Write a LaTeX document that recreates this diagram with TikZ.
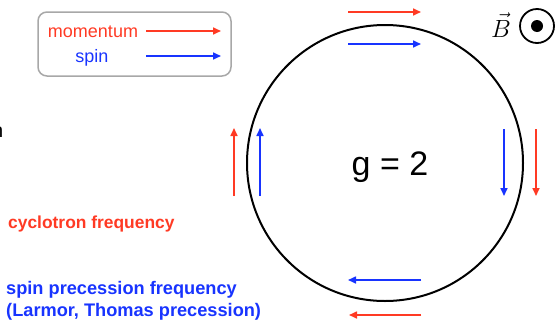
\documentclass[tikz,border=0pt]{standalone}
\usepackage[no-math]{fontspec}
\setmainfont{Liberation Sans}
\usetikzlibrary{arrows.meta}

\definecolor{momred}{RGB}{255,58,36}
\definecolor{spinblue}{RGB}{24,52,255}
\definecolor{boxgray}{RGB}{168,168,168}

\tikzset{
  tip/.style={-{Triangle[length=8pt,width=7pt]}},
  momarrow/.style={tip,draw=momred,fill=momred,line width=1.6pt},
  spinarrow/.style={tip,draw=spinblue,fill=spinblue,line width=1.6pt},
  legendtext/.style={font=\fontsize{18}{22}\selectfont,inner sep=0pt,anchor=base},
  freqtext/.style={font=\fontsize{18.2}{22}\selectfont\bfseries,inner sep=0pt,anchor=base west,align=left}
}

\begin{document}
\begin{tikzpicture}[x=1pt,y=-1pt]
\useasboundingbox (0,0) rectangle (560,322);

% legend
\node[draw=boxgray,line width=1.5pt,rounded corners=9pt,minimum width=193pt,minimum height=64pt] (legend) at (134.5,44) {};
\node[legendtext,text=momred] (momtxt) at (93,37) {momentum};
\node[legendtext,text=spinblue] (spintxt) at (92,62) {spin};
\draw[momarrow] (146,31) -- (221,31);
\draw[spinarrow] (146,56) -- (221,56);

% clipped text at the left edge
\node[font=\fontsize{20}{24}\selectfont,inner sep=0pt,anchor=base east] (cut) at (3.5,137) {n};

% orbit
\node[draw,circle,line width=2pt,minimum size=276pt,inner sep=0pt] (orbit) at (385,163) {};
\node[font=\fontsize{34}{40}\selectfont,inner sep=0pt,anchor=base] (gval) at (390,175) {g = 2};

% momentum and spin round the orbit
\draw[momarrow] (348,12) -- (421,12);
\draw[spinarrow] (348,44) -- (421,44);
\draw[spinarrow] (504,129) -- (504,196);
\draw[momarrow] (536,129) -- (536,196);
\draw[spinarrow] (421,280) -- (348,280);
\draw[momarrow] (421,315) -- (349,315);
\draw[momarrow] (234,196) -- (234,128);
\draw[spinarrow] (260,196) -- (260,128);

% field
\node[font=\fontsize{34}{40}\selectfont,inner sep=0pt,anchor=base] (bvec) at (501,37) {$\vec{B}$};
\node[draw,circle,line width=1.8pt,minimum size=34pt,inner sep=0pt] (bout) at (537,26) {};
\fill (bout.center) circle (6);

% frequencies
\node[freqtext,text=momred,font=\fontsize{17.4}{22}\selectfont\bfseries] (cyc) at (8,228) {cyclotron frequency};
\node[freqtext,text=spinblue] (prec) at (6,316) {spin precession frequency\\(Larmor, Thomas precession)};
\end{tikzpicture}
\end{document}
